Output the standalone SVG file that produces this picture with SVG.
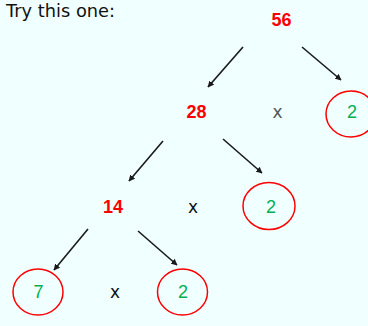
<svg xmlns="http://www.w3.org/2000/svg" width="368" height="326" viewBox="0 0 368 326">
<defs>
<style>
.num{font-family:"Liberation Sans",Arial,sans-serif;font-size:18px;font-weight:bold;fill:#FF0000;text-anchor:middle}
.grn{font-family:"Liberation Sans",Arial,sans-serif;font-size:18px;fill:#00B050;text-anchor:middle}
.x{font-family:"DejaVu Sans",sans-serif;font-size:17px;fill:#111;text-anchor:middle}
.ring{fill:none;stroke:#FF0000;stroke-width:1.5}
.arr{stroke:#1a1a1a;stroke-width:1.6;fill:none;marker-end:url(#ah)}
</style>
<marker id="ah" viewBox="0 0 10 10" refX="9" refY="5" markerWidth="4" markerHeight="4" orient="auto" markerUnits="strokeWidth">
<path d="M0,0 L10,5 L0,10 z" fill="#1a1a1a"/>
</marker>
</defs>
<rect width="368" height="326" fill="#F0FFFF"/>
<text x="6" y="17" font-family="DejaVu Sans, sans-serif" font-size="18" fill="#111" textLength="109" lengthAdjust="spacingAndGlyphs">Try this one:</text>
<g id="connectors">
<line class="arr" x1="243" y1="47" x2="208" y2="87"/>
<line class="arr" x1="302" y1="47" x2="341" y2="80"/>
<line class="arr" x1="163" y1="141" x2="129" y2="181"/>
<line class="arr" x1="223" y1="139" x2="262" y2="173"/>
<line class="arr" x1="88" y1="229" x2="54" y2="270"/>
<line class="arr" x1="138" y1="231" x2="177" y2="265"/>
</g>
<g id="n56"><text class="num" x="281.5" y="26">56</text></g>
<g id="n28"><text class="num" x="196.5" y="118">28</text></g>
<g id="x1"><text class="x" x="277.5" y="118" fill="#555" style="fill:#555">x</text></g>
<g id="n2a"><ellipse class="ring" cx="351" cy="114" rx="25" ry="23"/><text class="grn" x="352" y="118">2</text></g>
<g id="n14"><text class="num" x="113" y="213">14</text></g>
<g id="x2"><text class="x" x="193" y="213">x</text></g>
<g id="n2b"><ellipse class="ring" cx="269" cy="206" rx="26" ry="23.5"/><text class="grn" x="271" y="213">2</text></g>
<g id="n7"><ellipse class="ring" cx="38" cy="292" rx="25" ry="23"/><text class="grn" x="38.5" y="298">7</text></g>
<g id="x3"><text class="x" x="115" y="298">x</text></g>
<g id="n2c"><ellipse class="ring" cx="182.5" cy="292" rx="25" ry="23"/><text class="grn" x="183" y="298">2</text></g>
</svg>
